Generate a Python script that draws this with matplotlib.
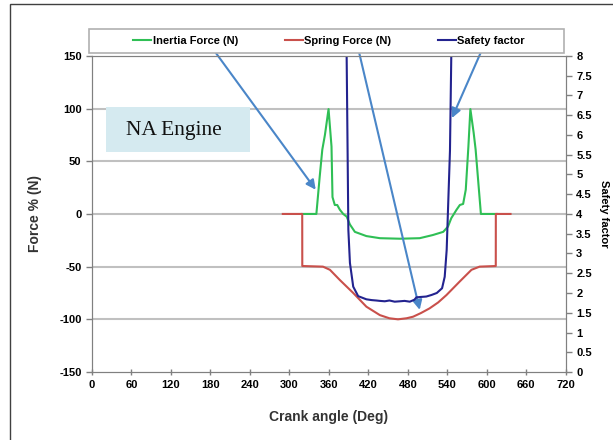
import numpy as np
import matplotlib
matplotlib.use('Agg')
import matplotlib.pyplot as plt
from matplotlib.patches import Rectangle

plt.rcParams['font.family'] = ['Liberation Sans', 'DejaVu Sans']
plt.rcParams['font.weight'] = 'bold'
plt.rcParams['axes.unicode_minus'] = False

# inertia force (N) vs crank angle
inertia_deg = [319, 341, 346, 350, 354, 359.5, 364, 365.5, 369, 372.7, 376.7, 381.8,
               387, 392, 399.5, 417, 437.5, 468, 498, 518, 533.7, 541, 546, 550,
               554, 559, 564, 568, 572, 575, 580, 583, 591, 615]
inertia_force = [0, 0, 35, 61, 75, 99.5, 64, 16, 8.5, 8.5, 4, 0,
                 -2.5, -10, -17, -21, -23, -23.5, -23, -20, -17, -12, -4, 0,
                 4, 8.5, 9.5, 23, 64, 99.5, 77, 61, 0, 0]

# spring force (N)
spring_deg = [290, 319.5, 319.6, 351, 361.6, 376.7, 397, 417, 437.5, 452, 465,
              478, 488, 500, 513, 526, 538.6, 559, 576.7, 589, 613.6, 613.7, 636]
spring_force = [0, 0, -49.4, -50, -53, -62.7, -75, -88, -96, -99, -100,
                -99, -97.5, -94, -89.6, -84, -77, -64, -53, -50, -49.4, 0, 0]

# safety factor (right axis)
safety_deg = [385, 387, 388.5, 389.6, 392, 397, 404.5, 417, 425, 432, 437.5, 445,
              452, 460, 468, 475, 483, 490, 493, 500, 508, 516, 524, 532, 536,
              539, 541, 544, 546, 548]
safety_factor = [12, 8, 5.5, 3.6, 2.76, 2.16, 1.92, 1.84, 1.82, 1.81, 1.80, 1.79,
                 1.81, 1.78, 1.79, 1.80, 1.78, 1.83, 1.89, 1.90, 1.91, 1.95, 2.0, 2.12, 2.41,
                 3.09, 4.1, 5.6, 8, 12]

fig = plt.figure(figsize=(6.13, 4.40), dpi=100)
ax = fig.add_axes([0.150, 0.1545, 0.773, 0.7185])
ax2 = ax.twinx()

# outer frame (only top and left edges fall inside the picture)
fig.add_artist(Rectangle((10 / 613, -0.1), 1.2, 1.1 - 4 / 440, transform=fig.transFigure,
                         fill=False, edgecolor='#404040', lw=1.0))

grid_c = '#c0c0c0'
for yv in range(-100, 151, 50):
    ax.axhline(yv, color=grid_c, lw=1.5, zorder=0)

l1, = ax.plot(inertia_deg, inertia_force, color='#2fbf55', lw=1.5, label='Inertia Force (N)')
l2, = ax.plot(spring_deg, spring_force, color='#c9504b', lw=1.5, label='Spring Force (N)')
l3, = ax2.plot(safety_deg, safety_factor, color='#23238f', lw=1.5, label='Safety factor')

ax.set_xlim(0, 720)
ax.set_ylim(-150, 150)
ax2.set_ylim(0, 8)
ax.set_xticks(np.arange(0, 721, 60))
ax.set_yticks(np.arange(-150, 151, 50))
ax2.set_yticks(np.arange(0, 8.01, 0.5))
ax2.set_yticklabels(['0', '0.5', '1', '1.5', '2', '2.5', '3', '3.5', '4', '4.5',
                     '5', '5.5', '6', '6.5', '7', '7.5', '8'])

for a in (ax, ax2):
    for s in a.spines.values():
        s.set_color('#808080')
    a.tick_params(colors='#808080', labelcolor='black', labelsize=8, length=4, width=1)
ax.spines['top'].set_color(grid_c)
ax.tick_params(axis='x', direction='inout', length=5)

ax.set_xlabel('Crank angle (Deg)', fontsize=10, fontweight='bold', color='#333333', labelpad=14)
ax.set_ylabel('Force % (N)', fontsize=10, fontweight='bold', color='#333333', labelpad=12)
ax2.set_ylabel('Safety factor', fontsize=8, fontweight='bold', rotation=-90, labelpad=12)

# legend box
fig.add_artist(Rectangle((89 / 613, 1 - 53 / 440), 475 / 613, 24 / 440, transform=fig.transFigure,
                         facecolor='white', edgecolor='#b0b0b0', lw=1.2))
fig.legend(handles=[l1, l2, l3], loc='center', bbox_to_anchor=(0.537, 1 - 41 / 440),
           ncol=3, frameon=False, handlelength=1.6, handletextpad=0.15,
           columnspacing=4.2, prop={'weight': 'bold', 'size': 8})

# NA Engine box
fig.add_artist(Rectangle((106 / 613, 1 - 152 / 440), 144 / 613, 45 / 440, transform=fig.transFigure,
                         facecolor='#d5eaf0', edgecolor='none'))
fig.text(174 / 613, 1 - 130 / 440, 'NA Engine', family='Liberation Serif', fontweight='normal',
         fontsize=15.5, ha='center', va='center', color='#111111')

# arrows from legend to curves
arr = dict(arrowstyle='-|>', color='#4a86c8', lw=1.5, mutation_scale=14, shrinkA=0, shrinkB=0)
ax.annotate('', xy=(340, 23), xycoords='data', xytext=(213 / 613, 1 - 49 / 440),
            textcoords='figure fraction', arrowprops=arr)
ax.annotate('', xy=(498, -91), xycoords='data', xytext=(359 / 613, 1 - 52 / 440),
            textcoords='figure fraction', arrowprops=arr)
ax.annotate('', xy=(547, 91), xycoords='data', xytext=(481 / 613, 1 - 52 / 440),
            textcoords='figure fraction', arrowprops=arr)

fig.savefig('out.png', dpi=100)
